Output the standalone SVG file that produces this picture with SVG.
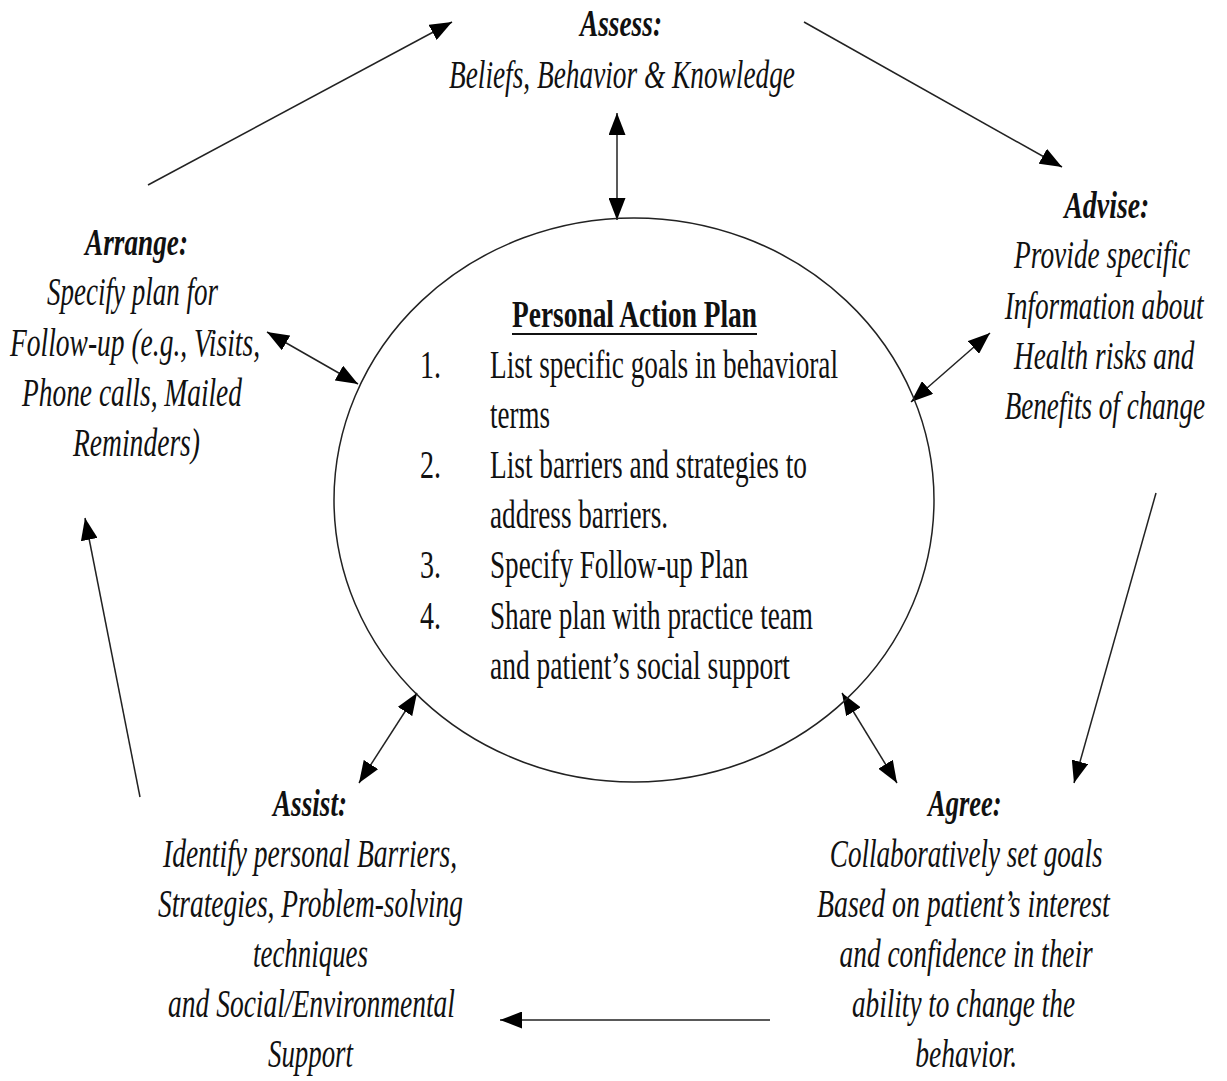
<svg xmlns="http://www.w3.org/2000/svg" width="1227" height="1081" viewBox="0 0 1227 1081">
<defs>
<marker id="ah" markerUnits="userSpaceOnUse" markerWidth="22" markerHeight="17" viewBox="0 0 22 17" refX="22" refY="8.5" orient="auto-start-reverse">
<path d="M0,0 L22,8.5 L0,17 z" fill="#000"/>
</marker>
<style>
text{font-family:"Liberation Serif","Times New Roman",serif;fill:#111;}
.it{font-style:italic;font-size:40px;}
.bi{font-style:italic;font-weight:bold;font-size:38px;}
.rg{font-size:40px;}
.hd{font-weight:bold;font-size:38px;}
.m{text-anchor:middle;}
.c{stroke:#222;stroke-width:1.5;fill:none;}
.one{marker-end:url(#ah);}
.two{marker-start:url(#ah);marker-end:url(#ah);}
</style>
</defs>
<rect width="1227" height="1081" fill="#fff"/>

<g id="connectors">
<line class="c one" x1="148" y1="185" x2="452" y2="22"/>
<line class="c one" x1="804" y1="22" x2="1062" y2="167"/>
<line class="c one" x1="1156" y1="493" x2="1074" y2="783"/>
<line class="c one" x1="770" y1="1020" x2="500" y2="1020"/>
<line class="c one" x1="140" y1="797" x2="85" y2="518"/>
<line class="c two" x1="617" y1="113" x2="617" y2="220"/>
<line class="c two" x1="267" y1="332" x2="358" y2="384"/>
<line class="c two" x1="990" y1="333" x2="911" y2="402"/>
<line class="c two" x1="417" y1="693" x2="359" y2="783"/>
<line class="c two" x1="842" y1="693" x2="897" y2="783"/>
</g>

<g id="plan">
<ellipse cx="634" cy="500" rx="300" ry="282" fill="none" stroke="#222" stroke-width="1.5"/>
<text class="hd" x="512" y="327" textLength="245" lengthAdjust="spacingAndGlyphs">Personal Action Plan</text>
<line x1="512" y1="334" x2="757" y2="334" stroke="#111" stroke-width="2"/>
<text class="rg" x="420" y="378" textLength="21" lengthAdjust="spacingAndGlyphs">1.</text>
<text class="rg" x="490" y="378" textLength="348" lengthAdjust="spacingAndGlyphs">List specific goals in behavioral</text>
<text class="rg" x="490" y="428" textLength="60" lengthAdjust="spacingAndGlyphs">terms</text>
<text class="rg" x="420" y="478" textLength="21" lengthAdjust="spacingAndGlyphs">2.</text>
<text class="rg" x="490" y="478" textLength="317" lengthAdjust="spacingAndGlyphs">List barriers and strategies to</text>
<text class="rg" x="490" y="528" textLength="178" lengthAdjust="spacingAndGlyphs">address barriers.</text>
<text class="rg" x="420" y="578" textLength="21" lengthAdjust="spacingAndGlyphs">3.</text>
<text class="rg" x="490" y="578" textLength="258" lengthAdjust="spacingAndGlyphs">Specify Follow-up Plan</text>
<text class="rg" x="420" y="629" textLength="21" lengthAdjust="spacingAndGlyphs">4.</text>
<text class="rg" x="490" y="629" textLength="323" lengthAdjust="spacingAndGlyphs">Share plan with practice team</text>
<text class="rg" x="490" y="679" textLength="300" lengthAdjust="spacingAndGlyphs">and patient’s social support</text>
</g>

<g id="assess">
<text class="bi" x="580" y="36" textLength="82" lengthAdjust="spacingAndGlyphs">Assess:</text>
<text class="it" x="449" y="88" textLength="346" lengthAdjust="spacingAndGlyphs">Beliefs, Behavior &amp; Knowledge</text>
</g>

<g id="advise" transform="scale(0.67,1)">
<text class="bi m" x="1652" y="218" textLength="127" lengthAdjust="spacingAndGlyphs">Advise:</text>
<text class="it m" x="1645" y="268" textLength="263" lengthAdjust="spacingAndGlyphs">Provide specific</text>
<text class="it m" x="1648" y="319" textLength="297" lengthAdjust="spacingAndGlyphs">Information about</text>
<text class="it m" x="1648" y="369" textLength="269" lengthAdjust="spacingAndGlyphs">Health risks and</text>
<text class="it m" x="1649" y="419" textLength="299" lengthAdjust="spacingAndGlyphs">Benefits of change</text>
</g>

<g id="agree" transform="scale(0.67,1)">
<text class="bi m" x="1440" y="816" textLength="110" lengthAdjust="spacingAndGlyphs">Agree:</text>
<text class="it m" x="1442" y="867" textLength="407" lengthAdjust="spacingAndGlyphs">Collaboratively set goals</text>
<text class="it m" x="1438" y="917" textLength="437" lengthAdjust="spacingAndGlyphs">Based on patient’s interest</text>
<text class="it m" x="1442" y="967" textLength="378" lengthAdjust="spacingAndGlyphs">and confidence in their</text>
<text class="it m" x="1438" y="1017" textLength="333" lengthAdjust="spacingAndGlyphs">ability to change the</text>
<text class="it m" x="1442" y="1067" textLength="152" lengthAdjust="spacingAndGlyphs">behavior.</text>
</g>

<g id="assist">
<text class="bi" x="273" y="816" textLength="74" lengthAdjust="spacingAndGlyphs">Assist:</text>
<text class="it" x="163" y="867" textLength="294" lengthAdjust="spacingAndGlyphs">Identify personal Barriers,</text>
<text class="it" x="158" y="917" textLength="305" lengthAdjust="spacingAndGlyphs">Strategies, Problem-solving</text>
<text class="it" x="253" y="967" textLength="115" lengthAdjust="spacingAndGlyphs">techniques</text>
<text class="it" x="168" y="1017" textLength="287" lengthAdjust="spacingAndGlyphs">and Social/Environmental</text>
<text class="it" x="268" y="1067" textLength="85" lengthAdjust="spacingAndGlyphs">Support</text>
</g>

<g id="arrange">
<text class="bi" x="85" y="255" textLength="103" lengthAdjust="spacingAndGlyphs">Arrange:</text>
<text class="it" x="47" y="305" textLength="171" lengthAdjust="spacingAndGlyphs">Specify plan for</text>
<text class="it" x="10" y="356" textLength="250" lengthAdjust="spacingAndGlyphs">Follow-up (e.g., Visits,</text>
<text class="it" x="22" y="406" textLength="220" lengthAdjust="spacingAndGlyphs">Phone calls, Mailed</text>
<text class="it" x="73" y="456" textLength="127" lengthAdjust="spacingAndGlyphs">Reminders)</text>
</g>
</svg>
